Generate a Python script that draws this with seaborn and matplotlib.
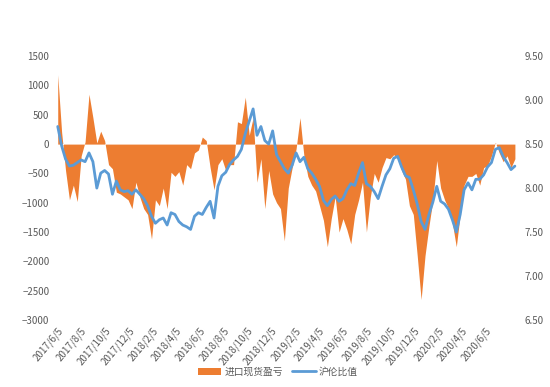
import matplotlib
matplotlib.use("Agg")
import matplotlib.pyplot as plt
import pandas as pd
import seaborn as sns

# Data (one point every 10 days)
dates = pd.date_range("2017-06-07", periods=118, freq="10D")

pnl = [1180, 200, -450, -950, -700, -980, -200, 40, 850, 450,
       20, 220, 60, -350, -420, -820, -850, -900, -950, -1100,
       -650, -900, -1100, -1200, -1620, -950, -1050, -750, -1100, -480,
       -550, -470, -700, -350, -420, -150, -100, 120, 60, -400,
       -780, -350, -250, -450, -350, -350, 380, 350, 800, 150,
       450, -650, -250, -1100, -450, -850, -1000, -1100, -1650, -750,
       -400, -80, 450, -200, -550, -700, -800, -1050, -1300, -1750,
       -1270, -900, -1500, -1270, -1460, -1700, -1200, -950, -650, -1500,
       -900, -500, -650, -400, -230, -250, -180, -250, -450, -600,
       -1050, -1200, -1900, -2650, -1900, -1400, -950, -280, -750, -950,
       -1100, -1350, -1750, -1200, -700, -550, -550, -500, -700, -400,
       -370, -200, 30, -150, -300, -200, -400, -250]

ratio = [8.70, 8.48, 8.33, 8.25, 8.26, 8.29, 8.32, 8.30, 8.40, 8.30,
         8.00, 8.17, 8.20, 8.16, 7.93, 8.08, 7.98, 7.96, 7.97, 7.93,
         7.98, 7.93, 7.88, 7.80, 7.68, 7.60, 7.64, 7.66, 7.58, 7.72,
         7.70, 7.62, 7.58, 7.56, 7.53, 7.68, 7.72, 7.70, 7.78, 7.85,
         7.66, 8.02, 8.14, 8.18, 8.27, 8.32, 8.36, 8.44, 8.62, 8.76,
         8.90, 8.60, 8.70, 8.54, 8.50, 8.65, 8.38, 8.30, 8.22, 8.17,
         8.26, 8.40, 8.30, 8.35, 8.22, 8.17, 8.10, 8.02, 7.86, 7.80,
         7.87, 7.91, 7.85, 7.88, 7.98, 8.05, 8.03, 8.17, 8.29, 8.05,
         8.02, 7.96, 7.88, 8.02, 8.15, 8.22, 8.34, 8.36, 8.24, 8.14,
         8.12, 7.98, 7.82, 7.62, 7.53, 7.70, 7.84, 8.02, 7.85, 7.82,
         7.76, 7.64, 7.50, 7.70, 7.98, 8.06, 7.98, 8.10, 8.10, 8.15,
         8.24, 8.29, 8.44, 8.46, 8.36, 8.29, 8.21, 8.25]

tick_labels = ["2017/6/5", "2017/8/5", "2017/10/5", "2017/12/5", "2018/2/5",
               "2018/4/5", "2018/6/5", "2018/8/5", "2018/10/5", "2018/12/5",
               "2019/2/5", "2019/4/5", "2019/6/5", "2019/8/5", "2019/10/5",
               "2019/12/5", "2020/2/5", "2020/4/5", "2020/6/5"]

df = pd.DataFrame({"date": dates, "pnl": pnl, "ratio": ratio})

sns.set_style("white")
plt.rcParams["font.family"] = ["Noto Sans CJK SC", "DejaVu Sans"]

orange = "#ED7D31"
blue = "#5B9BD5"
grey = "#595959"

fig = plt.figure(figsize=(5.5, 3.87), dpi=100)
ax = fig.add_axes([0.1, 0.173, 0.844, 0.682])
ax.fill_between(df["date"], df["pnl"], 0, color=orange, linewidth=0,
                label="进口现货盈亏")
ax.set_ylim(-3000, 1500)
ax.set_yticks(range(-3000, 1501, 500))
ax.set_xlim(pd.Timestamp("2017-05-31"), pd.Timestamp("2020-08-31"))

ax.set_xticks(pd.to_datetime(tick_labels, format="%Y/%m/%d"))
ax.set_xticklabels(tick_labels, rotation=50, ha="right",
                   rotation_mode="anchor")

ax2 = ax.twinx()
sns.lineplot(data=df, x="date", y="ratio", ax=ax2, color=blue, linewidth=2.0,
             label="沪伦比值", legend=False)
ax2.set_ylim(6.5, 9.5)
ax2.set_yticks([6.5, 7.0, 7.5, 8.0, 8.5, 9.0, 9.5])
ax2.set_yticklabels([f"{v:.2f}" for v in ax2.get_yticks()])

for a in (ax, ax2):
    for s in a.spines.values():
        s.set_visible(False)
    a.tick_params(length=0, labelsize=7, colors=grey, pad=4)
    a.set_xlabel("")
    a.set_ylabel("")

h1, l1 = ax.get_legend_handles_labels()
h2, l2 = ax2.get_legend_handles_labels()
fig.legend(h1 + h2, l1 + l2, loc="center", bbox_to_anchor=(0.505, 0.04),
           ncol=2, frameon=False, fontsize=7, labelcolor=grey,
           handlelength=2.4, handletextpad=0.3, columnspacing=1.0)

fig.savefig("out.png", dpi=100)
